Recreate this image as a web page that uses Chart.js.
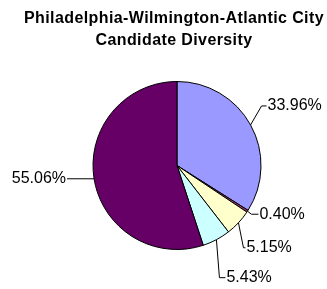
<!DOCTYPE html>
<html>
<head>
<meta charset="utf-8">
<script src="https://cdn.jsdelivr.net/npm/chart.js@4"></script>
<style>
  html, body { margin: 0; padding: 0; background: #fff; }
  #wrap { width: 327px; height: 289px; }
</style>
</head>
<body>
<div id="wrap"><canvas id="pieChart"></canvas></div>
<script>
const titleLines = ['Philadelphia-Wilmington-Atlantic City', 'Candidate Diversity'];
const categories = ['Group A', 'Group B', 'Group C', 'Group D', 'Group E'];
const shares = [33.96, 0.40, 5.15, 5.43, 55.06];
const sliceColors = ['#9999FF', '#993366', '#FFFFCC', '#CCFFFF', '#660066'];

// leader line bend relative to the slice's outer mid-point, then a short run to the text
const labelOffsets = [
  { dx: 11, dy: -19, run: 5, side: 'right' },
  { dx: 4, dy: 3, run: 7, side: 'right' },
  { dx: 5, dy: 25, run: 2, side: 'right' },
  { dx: 3, dy: 38, run: 6, side: 'right' },
  { dx: -27, dy: 0, run: 0, side: 'left' }
];

const titleDraw = {
  id: 'titleDraw',
  afterDraw(chart) {
    const ctx = chart.ctx;
    ctx.save();
    ctx.font = 'bold 16px "Liberation Sans", Arial, sans-serif';
    ctx.letterSpacing = '0.4px';
    ctx.fillStyle = '#000';
    ctx.textAlign = 'center';
    ctx.textBaseline = 'alphabetic';
    titleLines.forEach((line, i) => ctx.fillText(line, 174, 23 + i * 22));
    ctx.restore();
  }
};

const leaderLabels = {
  id: 'leaderLabels',
  afterDraw(chart) {
    const ctx = chart.ctx;
    const arcs = chart.getDatasetMeta(0).data;
    ctx.save();
    ctx.font = '16px "Liberation Sans", Arial, sans-serif';
    ctx.textBaseline = 'middle';
    ctx.strokeStyle = '#000';
    ctx.fillStyle = '#000';
    ctx.lineWidth = 1;
    arcs.forEach((arc, i) => {
      const p = arc.getProps(['x', 'y', 'startAngle', 'endAngle', 'outerRadius'], true);
      const mid = (p.startAngle + p.endAngle) / 2;
      const ax = p.x + Math.cos(mid) * p.outerRadius;
      const ay = p.y + Math.sin(mid) * p.outerRadius;
      const off = labelOffsets[i];
      const ex = ax + off.dx;
      const ey = ay + off.dy;
      const hx = off.side === 'right' ? ex + off.run : ex - off.run;
      ctx.beginPath();
      ctx.moveTo(ax, ay);
      ctx.lineTo(ex, ey);
      ctx.lineTo(hx, ey);
      ctx.stroke();
      const text = shares[i].toFixed(2) + '%';
      if (off.side === 'right') {
        ctx.textAlign = 'left';
        ctx.fillText(text, hx + 1, ey);
      } else {
        ctx.textAlign = 'right';
        ctx.fillText(text, hx - 1, ey);
      }
    });
    ctx.restore();
  }
};

const ctx = document.getElementById('pieChart').getContext('2d');
new Chart(ctx, {
  type: 'pie',
  data: {
    labels: categories,
    datasets: [{
      data: shares,
      backgroundColor: sliceColors,
      borderColor: '#000',
      borderWidth: 1
    }]
  },
  options: {
    responsive: true,
    maintainAspectRatio: false,
    animation: false,
    layout: { padding: { left: 27, right: 0, top: 81, bottom: 39 } },
    plugins: {
      legend: { display: false },
      tooltip: { enabled: false },
      title: { display: false }
    }
  },
  plugins: [titleDraw, leaderLabels]
});
</script>
</body>
</html>
